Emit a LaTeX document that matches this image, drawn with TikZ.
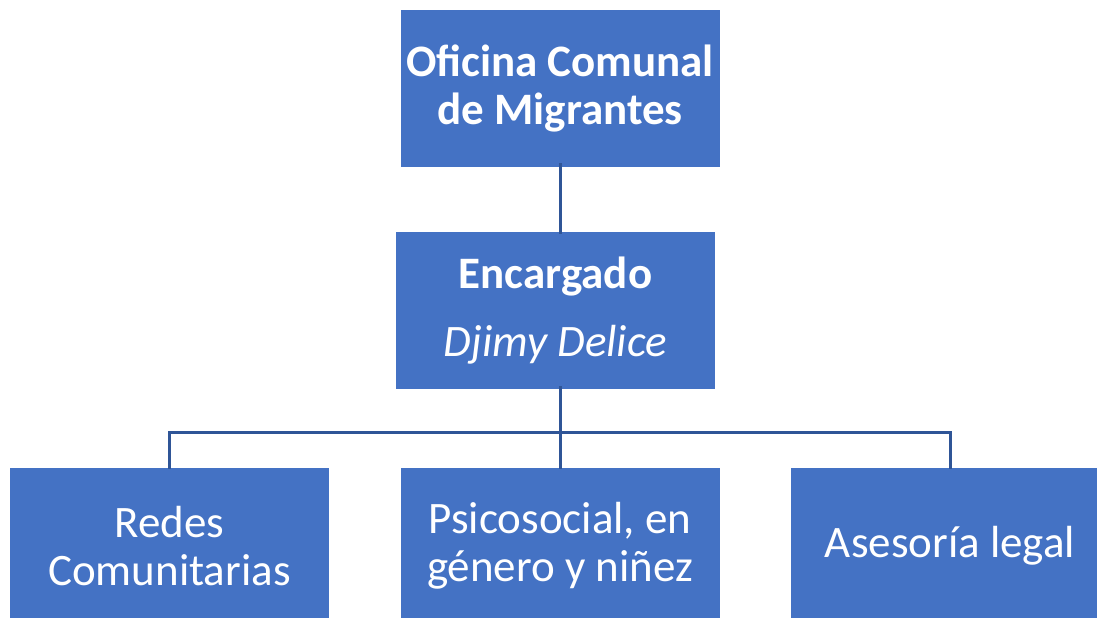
\documentclass[tikz,border=0pt]{standalone}
\usepackage{fontspec}
\setmainfont{Carlito}
\usepackage{tikz}
\usetikzlibrary{positioning}
\definecolor{boxblue}{HTML}{4472C4}
\definecolor{lineblue}{HTML}{2F5597}

\begin{document}
\begin{tikzpicture}[x=1pt, y=-1pt,
    unit/.style={rectangle, fill=boxblue, draw=white, line width=0.6pt,
      text=white, align=center, minimum width=320pt, minimum height=158pt,
      inner sep=0pt, font=\fontsize{45}{48}\selectfont},
    link/.style={draw=lineblue, line width=3pt}]
    \useasboundingbox (0,0) rectangle (1097,618);
    \node[unit] (oficina) at (560,88) {\textbf{Oficina Comunal}\\\textbf{de Migrantes}};
    \node[unit] (encargado) at (555.5,310.5) {\textbf{Encargado}\\[20pt]\textit{Djimy Delice}};
    \node[unit] (redes) at (169.5,546) {Redes\\Comunitarias};
    \node[unit] (psico) at (560,546) {Psicosocial, en\\género y niñez};
    \node[unit] (legal) at (950,546) {Asesoría legal};
    % connectors
    \coordinate (bus) at (560,432);
    \draw[link] ([yshift=4pt]oficina.south) -- ([yshift=-3pt]oficina.south |- encargado.north);
    \draw[link] ([yshift=4pt]oficina.south |- encargado.south) -- ([yshift=-2pt]psico.north);
    \draw[link] ([yshift=-2pt]redes.north) -- (redes.north |- bus) -| ([yshift=-2pt]legal.north);
 \end{tikzpicture}
\end{document}
